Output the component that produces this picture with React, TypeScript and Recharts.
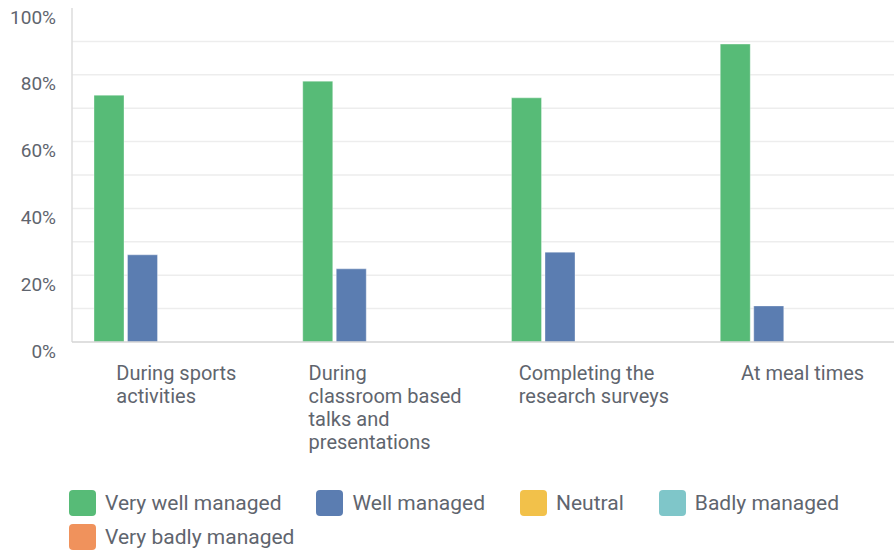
import React from 'react';
import { BarChart, Bar, XAxis, YAxis, CartesianGrid, Legend } from 'recharts';

const categories = [
  'During sports activities',
  'During classroom based talks and presentations',
  'Completing the research surveys',
  'At meal times',
];

// how each category label wraps under the axis
const categoryLines = [
  ['During sports', 'activities'],
  ['During', 'classroom based', 'talks and', 'presentations'],
  ['Completing the', 'research surveys'],
  ['At meal times'],
];

const veryWell = [73.9, 78.1, 73.1, 89.2];
const well = [26.1, 21.9, 26.9, 10.8];
const neutral = [0, 0, 0, 0];
const badly = [0, 0, 0, 0];
const veryBadly = [0, 0, 0, 0];

const yTicks = [0, 10, 20, 30, 40, 50, 60, 70, 80, 90, 100];
const gridValues = [10, 20, 30, 40, 50, 60, 70, 80, 90];

const SERIES = [
  { key: 'veryWell', name: 'Very well managed', color: '#57bb77', values: veryWell },
  { key: 'well', name: 'Well managed', color: '#5b7db1', values: well },
  { key: 'neutral', name: 'Neutral', color: '#f2c14a', values: neutral },
  { key: 'badly', name: 'Badly managed', color: '#7fc6c9', values: badly },
  { key: 'veryBadly', name: 'Very badly managed', color: '#f0925c', values: veryBadly },
];

const data = categories.map((name, i) => {
  const row: Record<string, string | number> = { name };
  SERIES.forEach(s => {
    row[s.key] = s.values[i];
  });
  return row;
});

const FONT = 'Roboto, sans-serif';
const TEXT = '#5f656e';

function YTick({ x, y, payload }: any) {
  if (payload.value % 20 !== 0) return null;
  return (
    <text
      x={x - 14}
      y={y + 9}
      textAnchor="end"
      dominantBaseline="central"
      fontFamily={FONT}
      fontSize={19}
      fill={TEXT}
    >
      {payload.value}%
    </text>
  );
}

function XTick({ x, y, index }: any) {
  const lines = categoryLines[index] || [];
  return (
    <foreignObject x={x - 110} y={y + 20} width={220} height={110}>
      <div style={{ display: 'flex', justifyContent: 'center' }}>
        <div
          style={{
            textAlign: 'left',
            fontFamily: FONT,
            fontSize: 20,
            lineHeight: '23px',
            color: TEXT,
            whiteSpace: 'nowrap',
          }}
        >
          {lines.map(l => (
            <div key={l}>{l}</div>
          ))}
        </div>
      </div>
    </foreignObject>
  );
}

function LegendContent() {
  return (
    <div
      style={{
        display: 'flex',
        flexWrap: 'wrap',
        columnGap: 35,
        rowGap: 8,
        width: 830,
        paddingTop: 6,
        fontFamily: FONT,
        fontSize: 21,
        color: TEXT,
      }}
    >
      {SERIES.map(s => (
        <div key={s.key} style={{ display: 'flex', alignItems: 'center', height: 26 }}>
          <span
            style={{
              display: 'inline-block',
              width: 27,
              height: 26,
              borderRadius: 4,
              background: s.color,
              marginRight: 9,
            }}
          />
          <span style={{ lineHeight: '26px', whiteSpace: 'nowrap' }}>{s.name}</span>
        </div>
      ))}
    </div>
  );
}

export default function App() {
  return (
    <div
      style={{
        position: 'absolute',
        left: 0,
        top: 0,
        width: 894,
        height: 551,
        overflow: 'hidden',
        background: '#fff',
      }}
    >
      <BarChart
        width={907}
        height={551}
        data={data}
        margin={{ top: 8, right: 0, bottom: 0, left: 0 }}
        barSize={30}
        barGap={3.5}
      >
        <CartesianGrid
          vertical={false}
          horizontalValues={gridValues}
          stroke="#ededed"
          strokeWidth={1.5}
        />
        <YAxis
          width={72}
          domain={[0, 100]}
          ticks={yTicks}
          interval={0}
          tickLine={false}
          tickSize={0}
          axisLine={{ stroke: '#dcdcdc', strokeWidth: 1.5 }}
          tick={<YTick />}
        />
        <XAxis
          dataKey="name"
          height={142}
          interval={0}
          tickLine={false}
          tickSize={0}
          tickMargin={0}
          axisLine={{ stroke: '#d4d4d4', strokeWidth: 1.5 }}
          tick={<XTick />}
        />
        <Legend
          verticalAlign="bottom"
          content={<LegendContent />}
          wrapperStyle={{ left: 69, width: 830, height: 67, bottom: 0 }}
        />
        {SERIES.map(s => (
          <Bar
            key={s.key}
            dataKey={s.key}
            name={s.name}
            fill={s.color}
            stroke="#ffffff"
            strokeOpacity={0.35}
            strokeWidth={1}
            isAnimationActive={false}
          />
        ))}
      </BarChart>
    </div>
  );
}
